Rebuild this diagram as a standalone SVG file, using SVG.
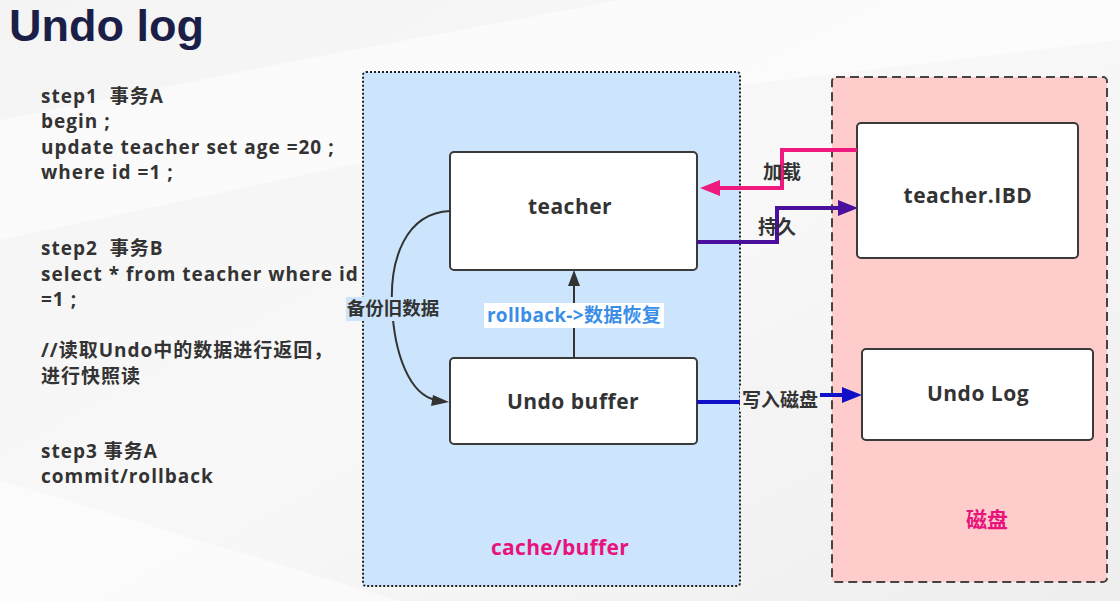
<svg xmlns="http://www.w3.org/2000/svg" width="1120" height="601" viewBox="0 0 1120 601">
<defs>
<linearGradient id="bg" x1="0" y1="0" x2="1" y2="1">
<stop offset="0" stop-color="#f4f4f4"/>
<stop offset="0.5" stop-color="#f8f8f8"/>
<stop offset="1" stop-color="#eeeeee"/>
</linearGradient>
</defs>
<style>
.t{font-family:"Open Sans","Noto Sans CJK SC",sans-serif;font-weight:bold;}
.left{font-size:19px;fill:#333333;letter-spacing:1px;}
.node{fill:#ffffff;stroke:#3a3a3a;stroke-width:2;}
.ntext{font-size:21px;fill:#333333;text-anchor:middle;letter-spacing:0.5px;}
.lbl{font-size:19px;fill:#333333;text-anchor:middle;}
</style>
<rect x="0" y="0" width="1120" height="601" fill="url(#bg)"/>
<polygon points="0,120 300,60 620,0 1120,0 1120,40 700,90 0,240" fill="#ffffff" opacity="0.5"/>
<polygon points="0,480 400,601 0,601" fill="#ffffff" opacity="0.5"/>

<text x="9" y="41" font-family="'Liberation Sans',Arial,sans-serif" font-weight="bold" font-size="45" fill="#1b1f48">Undo log</text>

<g id="steps" class="t left">
<text x="41" y="103">step1<tspan dx="12">事务A</tspan></text>
<text x="41" y="128">begin ;</text>
<text x="41" y="154">update teacher set age =20 ;</text>
<text x="41" y="179">where id =1 ;</text>
<text x="41" y="255">step2<tspan dx="12">事务B</tspan></text>
<text x="41" y="281">select * from teacher where id</text>
<text x="41" y="306">=1 ;</text>
<text x="41" y="357">//读取Undo中的数据进行返回，</text>
<text x="41" y="383">进行快照读</text>
<text x="41" y="458">step3 事务A</text>
<text x="41" y="483">commit/rollback</text>
</g>

<g id="cache-buffer">
<rect x="363" y="72" width="377" height="514" rx="3" fill="#cce5fc" stroke="#222" stroke-width="2" stroke-dasharray="2,2"/>
<text class="t" x="560" y="555" font-size="21" fill="#e8147c" text-anchor="middle" letter-spacing="0.3">cache/buffer</text>
</g>

<g id="disk">
<rect x="832" y="77" width="275" height="505" rx="4" fill="#ffcccc" stroke="#444" stroke-width="2" stroke-dasharray="9,5"/>
<text class="t" x="987" y="527" font-size="21" fill="#e8147c" text-anchor="middle">磁盘</text>
</g>

<g id="teacher">
<rect class="node" x="450" y="152" width="247" height="118" rx="4"/>
<text class="t ntext" x="570" y="214">teacher</text>
</g>

<g id="undo-buffer">
<rect class="node" x="450" y="358" width="247" height="86" rx="4"/>
<text class="t ntext" x="573" y="409">Undo buffer</text>
</g>

<g id="teacher-ibd">
<rect class="node" x="857" y="123" width="221" height="135" rx="4"/>
<text class="t ntext" x="968" y="203">teacher.IBD</text>
</g>

<g id="undo-log">
<rect class="node" x="862" y="349" width="231" height="91" rx="4"/>
<text class="t ntext" x="978" y="401">Undo Log</text>
</g>

<g id="connectors">
<line x1="574" y1="358" x2="574" y2="284" stroke="#333" stroke-width="2"/>
<polygon points="574,270 568,286 580,286" fill="#333"/>
<rect x="484" y="303" width="180" height="25" fill="#ffffff"/>
<text class="t" x="574" y="322" font-size="19" fill="#3a8ee8" text-anchor="middle" letter-spacing="0.3">rollback-&gt;数据恢复</text>

<path d="M450,211 C405,213 390,260 392,305 C394,355 410,395 436,400" fill="none" stroke="#333" stroke-width="2"/>
<polygon points="449,402 433,395 431,406" fill="#333"/>
<rect x="346" y="297" width="95" height="24" fill="#cce5fc"/>
<text class="t" x="393" y="315" font-size="18.5" fill="#333333" text-anchor="middle">备份旧数据</text>

<polyline points="857,150 782,150 782,188 718,188" fill="none" stroke="#ee1a7d" stroke-width="4"/>
<polygon points="700,188 720,180 720,196" fill="#ee1a7d"/>
<text class="t lbl" x="782" y="179">加载</text>

<polyline points="697,242 777,242 777,208 840,208" fill="none" stroke="#4a0f9c" stroke-width="4"/>
<polygon points="858,208 838,200 838,216" fill="#4a0f9c"/>
<text class="t lbl" x="777" y="234">持久</text>

<polyline points="697,402 780,402 780,395 844,395" fill="none" stroke="#1010c8" stroke-width="4"/>
<polygon points="862,395 842,387 842,403" fill="#1010c8"/>
<rect x="740" y="387" width="80" height="25" fill="#f4f4f4"/>
<text class="t lbl" x="780" y="407">写入磁盘</text>
</g>
</svg>
